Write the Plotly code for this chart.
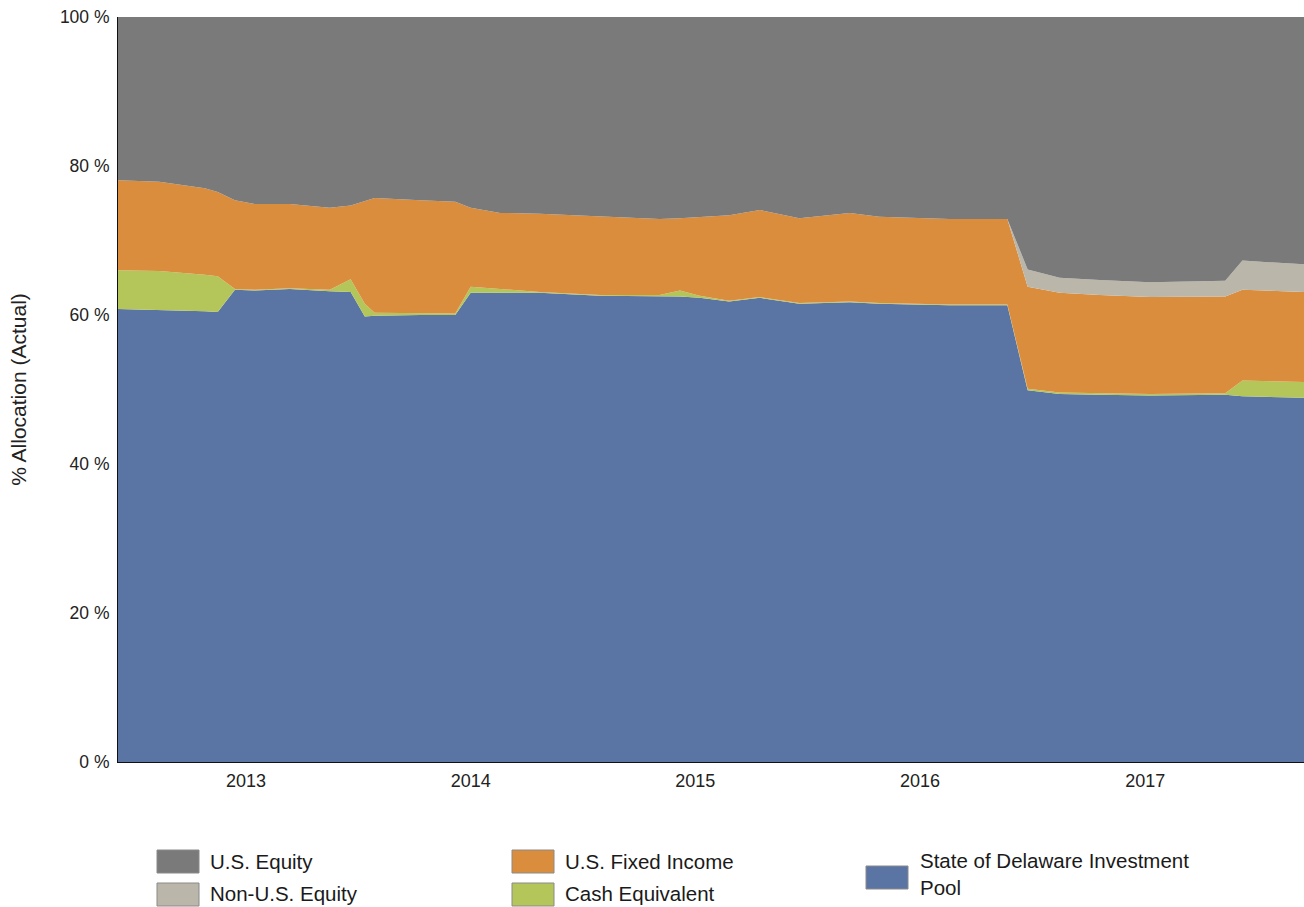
import plotly.graph_objects as go

# Observation dates (allocation snapshots)
dates = [
    "2012-06-07", "2012-08-13", "2012-10-26", "2012-11-16", "2012-12-14",
    "2013-01-15", "2013-03-13", "2013-05-17", "2013-06-20", "2013-07-13",
    "2013-07-29", "2013-10-11", "2013-12-07", "2014-01-01", "2014-02-18",
    "2014-04-23", "2014-07-30", "2014-11-04", "2014-12-07", "2015-01-08",
    "2015-02-25", "2015-04-16", "2015-06-19", "2015-09-09", "2015-10-27",
    "2016-02-18", "2016-05-22", "2016-06-24", "2016-08-15", "2016-10-19",
    "2017-01-09", "2017-05-11", "2017-06-08", "2017-09-16",
]

# Allocation by asset class, % of total
sdip = [60.8, 60.7, 60.5, 60.4, 63.4, 63.3, 63.5, 63.2, 63.1, 59.8,
        59.9, 60.0, 60.0, 63.0, 63.0, 63.0, 62.6, 62.6, 62.5, 62.3,
        61.8, 62.3, 61.5, 61.7, 61.5, 61.3, 61.3, 49.9, 49.4, 49.3,
        49.2, 49.3, 49.1, 48.9]
cash = [5.2, 5.2, 4.9, 4.8, 0.1, 0.1, 0.1, 0.2, 1.7, 1.7,
        0.4, 0.2, 0.2, 0.8, 0.5, 0.1, 0.1, 0.1, 0.8, 0.3,
        0.1, 0.1, 0.1, 0.1, 0.1, 0.1, 0.1, 0.2, 0.2, 0.2,
        0.2, 0.2, 2.1, 2.1]
us_fixed = [12.1, 12.0, 11.6, 11.3, 11.9, 11.5, 11.3, 11.0, 9.9, 13.8,
            15.4, 15.2, 15.0, 10.6, 10.2, 10.5, 10.5, 10.2, 9.7, 10.6,
            11.5, 11.7, 11.4, 11.9, 11.6, 11.5, 11.5, 13.7, 13.4, 13.2,
            13.0, 13.0, 12.2, 12.1]
non_us_equity = [0.0] * 27 + [2.3, 2.0, 2.0, 2.0, 2.1, 3.9, 3.7]
us_equity = [round(100 - a - b - c - d, 1)
             for a, b, c, d in zip(sdip, cash, us_fixed, non_us_equity)]

series = [
    ("State of Delaware Investment Pool", sdip, "#5A75A3"),
    ("Cash Equivalent", cash, "#B4C65A"),
    ("U.S. Fixed Income", us_fixed, "#DA8D3D"),
    ("Non-U.S. Equity", non_us_equity, "#BAB6AA"),
    ("U.S. Equity", us_equity, "#7A7A7A"),
]

year_ticks = ["2013-01-01", "2014-01-01", "2015-01-01", "2016-01-01", "2017-01-01"]
year_labels = ["2013", "2014", "2015", "2016", "2017"]
pct_ticks = [0, 20, 40, 60, 80, 100]

W, H = 1304, 907
L, R, T, B = 118, 0, 17, 145
FONT = "Arial, Liberation Sans, sans-serif"

fig = go.Figure()
for name, vals, color in series:
    fig.add_trace(go.Scatter(
        x=dates, y=vals, name=name, mode="lines",
        stackgroup="alloc", line=dict(width=0, color=color),
        fillcolor=color, showlegend=False,
        hovertemplate="%{y:.1f}%<extra>" + name + "</extra>",
    ))


def px_x(px):
    return (px - L) / (W - L - R)


def px_y(py):
    return (H - B - py) / (H - T - B)


# Legend: swatch + label, three columns
legend_items = [
    ("U.S. Equity", "#7A7A7A", 157, 850, 873, 208, 861),
    ("Non-U.S. Equity", "#BAB6AA", 157, 883, 906, 208, 893),
    ("U.S. Fixed Income", "#DA8D3D", 512, 850, 873, 563, 861),
    ("Cash Equivalent", "#B4C65A", 512, 883, 906, 563, 893),
    ("State of Delaware Investment<br>Pool", "#5A75A3", 866, 866, 889, 918, 874),
]
shapes = []
annotations = []
for label, color, sx, sy0, sy1, tx, ty in legend_items:
    shapes.append(dict(
        type="rect", xref="paper", yref="paper",
        x0=px_x(sx), x1=px_x(sx + 42), y0=px_y(sy1), y1=px_y(sy0),
        fillcolor=color, line=dict(color="#8a8a8a", width=1), layer="above",
    ))
    annotations.append(dict(
        text=label, xref="paper", yref="paper", x=px_x(tx), y=px_y(ty),
        xanchor="left", yanchor="middle", align="left", showarrow=False,
        font=dict(family=FONT, size=20.5, color="#1a1a1a"),
    ))

fig.update_layout(
    width=W, height=H,
    margin=dict(l=L, r=R, t=T, b=B),
    paper_bgcolor="white", plot_bgcolor="white",
    font=dict(family=FONT, color="#222222"),
    shapes=shapes, annotations=annotations,
    xaxis=dict(
        type="date", range=["2012-06-07", "2017-09-16"],
        tickvals=year_ticks, ticktext=year_labels,
        showgrid=False, zeroline=False, ticks="",
        showline=True, linecolor="#111111", linewidth=1,
        tickfont=dict(family=FONT, size=18, color="#222222"),
        ticklabelstandoff=2,
    ),
    yaxis=dict(
        range=[0, 100], tickvals=pct_ticks,
        ticktext=[f"{v} %" for v in pct_ticks],
        showgrid=False, zeroline=False, ticks="",
        showline=True, linecolor="#111111", linewidth=1,
        tickfont=dict(family=FONT, size=17.5, color="#222222"),
        ticklabelstandoff=4,
        title=dict(text="% Allocation (Actual)",
                   font=dict(family=FONT, size=21, color="#222222"),
                   standoff=27),
    ),
)

fig.write_html("out.html")
